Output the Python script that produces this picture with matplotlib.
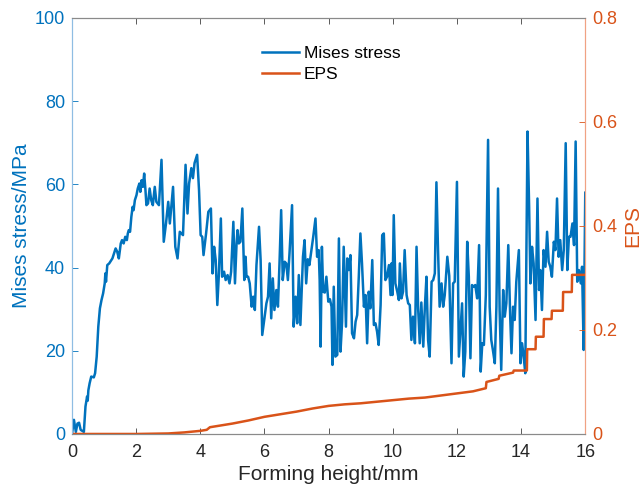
import matplotlib
matplotlib.use("Agg")
import matplotlib.pyplot as plt

# Mises stress (MPa) vs forming height (mm)
stress_pts = [
    (0.00, 0.0), (0.06, 3.4), (0.12, 0.5), (0.17, 2.5), (0.22, 2.7), (0.27, 1.0), (0.37, 0.5),
    (0.42, 6.6), (0.47, 9.0), (0.49, 8.0), (0.51, 10.5), (0.55, 12.2), (0.60, 13.8), (0.68, 13.6),
    (0.72, 14.6), (0.77, 18.6), (0.82, 25.8), (0.87, 30.2), (0.92, 32.2), (0.97, 33.8), (1.02, 36.2),
    (1.04, 38.6), (1.06, 36.6), (1.10, 40.6), (1.16, 41.0), (1.26, 42.2), (1.36, 44.6), (1.41, 43.8),
    (1.46, 42.2), (1.52, 45.8), (1.56, 46.6), (1.61, 45.8), (1.66, 47.4), (1.71, 46.6), (1.74, 48.2),
    (1.77, 49.0), (1.81, 48.6), (1.85, 52.2), (1.89, 54.6), (1.92, 53.8), (1.96, 56.2), (2.01, 57.4),
    (2.05, 59.0), (2.10, 60.2), (2.13, 58.2), (2.17, 61.0), (2.21, 59.4), (2.25, 62.6), (2.29, 58.6),
    (2.32, 55.0), (2.37, 55.4), (2.42, 59.0), (2.47, 56.2),
    (2.52, 55.0), (2.58, 59.4), (2.63, 55.8), (2.71, 55.0), (2.79, 65.9), (2.86, 46.2), (2.93, 50.6),
    (3.00, 55.8), (3.05, 50.6), (3.15, 59.4), (3.22, 45.0), (3.29, 42.2), (3.36, 48.6), (3.46, 47.8),
    (3.54, 64.7), (3.60, 53.0), (3.65, 60.2), (3.72, 63.9), (3.77, 61.5), (3.82, 65.1), (3.90, 67.1),
    (3.96, 58.6), (4.01, 47.8), (4.06, 47.4), (4.10, 43.0), (4.18, 48.2), (4.25, 53.4), (4.33, 54.2),
    (4.38, 38.6), (4.43, 45.0), (4.48, 41.8), (4.53, 31.0), (4.58, 38.6), (4.64, 51.8), (4.68, 37.8),
    (4.74, 39.0), (4.79, 37.0), (4.85, 38.2), (4.91, 36.2), (4.96, 39.0),
    (5.03, 51.0), (5.08, 36.2), (5.13, 45.8), (5.16, 49.0), (5.20, 45.8), (5.25, 46.2), (5.31, 54.2),
    (5.37, 37.0), (5.41, 42.6), (5.44, 37.8), (5.49, 37.8), (5.54, 36.2), (5.60, 30.6), (5.65, 33.0),
    (5.70, 29.8), (5.75, 40.6), (5.83, 49.8), (5.88, 41.8), (5.93, 23.8), (5.99, 27.4), (6.06, 31.4),
    (6.11, 33.0), (6.16, 41.0), (6.21, 27.8), (6.26, 37.4), (6.31, 29.8), (6.37, 34.6), (6.42, 30.6),
    (6.47, 41.4), (6.52, 53.8), (6.57, 37.0), (6.63, 41.4), (6.68, 41.0), (6.73, 37.0), (6.78, 43.4),
    (6.86, 55.0), (6.91, 25.8), (6.97, 33.0), (7.02, 26.6), (7.07, 38.2), (7.12, 26.2), (7.20, 42.6),
    (7.25, 46.6), (7.30, 36.2), (7.35, 42.0), (7.40, 40.6), (7.52, 47.4), (7.59, 51.8), (7.64, 42.6),
    (7.69, 44.2), (7.72, 37.0), (7.75, 21.0), (7.79, 45.0),
    (7.83, 34.2), (7.88, 34.0), (7.93, 37.8), (7.99, 31.8), (8.04, 32.4), (8.09, 30.6), (8.12, 16.6),
    (8.16, 35.4), (8.21, 18.6), (8.27, 19.0), (8.32, 47.0), (8.37, 19.8), (8.42, 27.0), (8.47, 45.0),
    (8.54, 25.8), (8.58, 42.2), (8.63, 39.4), (8.68, 43.0), (8.73, 24.2), (8.79, 23.0), (8.84, 27.0),
    (8.89, 28.6), (8.94, 37.8), (8.99, 48.2), (9.04, 41.0), (9.10, 30.6), (9.15, 33.4), (9.20, 21.8),
    (9.25, 34.2), (9.30, 30.2), (9.36, 41.8), (9.41, 26.2), (9.46, 26.6), (9.51, 24.6), (9.56, 21.4),
    (9.62, 31.0), (9.67, 47.8), (9.72, 48.2), (9.77, 37.0), (9.82, 37.8), (9.88, 40.6), (9.93, 33.4),
    (9.96, 41.0), (9.99, 33.4), (10.03, 52.6), (10.08, 36.2), (10.14, 34.2), (10.19, 32.2),
    (10.22, 41.0), (10.27, 32.6), (10.32, 34.2), (10.37, 44.2), (10.43, 33.4), (10.48, 31.4),
    (10.53, 31.0), (10.58, 22.6), (10.63, 28.2), (10.69, 21.8), (10.74, 45.0), (10.79, 30.2),
    (10.84, 21.8), (10.89, 31.6), (10.95, 21.0), (11.00, 30.6), (11.05, 37.8), (11.10, 22.6),
    (11.15, 18.6), (11.21, 36.6), (11.26, 37.0), (11.31, 38.6), (11.36, 60.5), (11.41, 44.2),
    (11.46, 30.6), (11.52, 36.2), (11.57, 30.6), (11.62, 33.4), (11.70, 42.6), (11.76, 38.0),
    (11.83, 17.0), (11.88, 36.2), (11.93, 36.6), (12.00, 60.6), (12.06, 18.6), (12.11, 25.0),
    (12.16, 31.4), (12.21, 13.8), (12.26, 19.8), (12.32, 46.2), (12.37, 37.8), (12.42, 18.2),
    (12.47, 35.8), (12.52, 35.4), (12.57, 35.8), (12.63, 32.6), (12.69, 45.4), (12.74, 15.0),
    (12.79, 21.8), (12.84, 21.4), (12.90, 33.4), (12.97, 70.7), (13.02, 30.6), (13.07, 22.6),
    (13.12, 20.2), (13.18, 17.0), (13.23, 30.6), (13.28, 59.0), (13.33, 29.8), (13.38, 15.4),
    (13.44, 34.6), (13.49, 28.2), (13.54, 31.4), (13.60, 45.4), (13.66, 28.2), (13.70, 19.4),
    (13.75, 30.6), (13.80, 27.4), (13.85, 36.6), (13.93, 44.2), (13.98, 17.0), (14.03, 21.8),
    (14.08, 18.6), (14.13, 14.6), (14.20, 72.7), (14.25, 54.6), (14.29, 36.2), (14.34, 45.0),
    (14.39, 41.0), (14.45, 27.4), (14.51, 56.6), (14.56, 34.6), (14.60, 39.4), (14.65, 29.8),
    (14.70, 44.2), (14.76, 40.2), (14.81, 48.6), (14.86, 41.4), (14.91, 40.2), (14.96, 37.8),
    (15.02, 46.2), (15.07, 44.2), (15.12, 56.6), (15.17, 42.6), (15.22, 46.6), (15.28, 39.4),
    (15.33, 44.2), (15.39, 69.9), (15.44, 39.4), (15.49, 47.4), (15.54, 47.4), (15.60, 50.6),
    (15.65, 45.4), (15.70, 70.3), (15.75, 36.6), (15.80, 39.4), (15.86, 36.2), (15.90, 40.2),
    (15.95, 20.2), (16.00, 58.0),
]
stress_x = [p[0] for p in stress_pts]
stress_y = [p[1] for p in stress_pts]

# equivalent plastic strain, stepped near the end
eps_x = [0, 2.0, 3.0, 3.5, 4.0, 4.2, 4.3, 4.6, 5.0, 5.5,
         6.0, 6.5, 7.0, 7.5, 8.0, 8.5, 9.0, 9.5, 10.0, 10.5,
         11.0, 11.5, 12.0, 12.5, 12.9, 12.92, 13.3, 13.32, 13.75, 13.77,
         14.18, 14.19, 14.45, 14.46, 14.7, 14.71, 14.95, 14.96, 15.3, 15.31,
         15.58, 15.59, 16.0]
eps_y = [0, 0, 0.001, 0.003, 0.006, 0.008, 0.013, 0.016, 0.020, 0.026,
         0.033, 0.038, 0.043, 0.049, 0.054, 0.057, 0.059, 0.062, 0.065, 0.068,
         0.070, 0.074, 0.078, 0.082, 0.088, 0.100, 0.106, 0.112, 0.118, 0.122,
         0.122, 0.163, 0.163, 0.187, 0.187, 0.221, 0.221, 0.237, 0.237, 0.273,
         0.273, 0.306, 0.306]

x_ticks = [0, 2, 4, 6, 8, 10, 12, 14, 16]
left_ticks = [0, 20, 40, 60, 80, 100]
right_ticks = [0, 0.2, 0.4, 0.6, 0.8]
right_labels = ["0", "0.2", "0.4", "0.6", "0.8"]

blue = "#0072BD"
orange = "#D95319"
gray = "#8a8a8a"

plt.rcParams["font.family"] = ["Liberation Sans", "DejaVu Sans"]

fig = plt.figure(figsize=(6.44, 4.88), dpi=100)
ax = fig.add_axes([0.1118, 0.1107, 0.797, 0.8525])
ax2 = ax.twinx()

l1, = ax.plot(stress_x, stress_y, color=blue, lw=1.8, label="Mises stress")
l2, = ax2.plot(eps_x, eps_y, color=orange, lw=1.8, label="EPS")

ax.set_xlim(0, 16)
ax.set_ylim(0, 100)
ax2.set_ylim(0, 0.8)
ax.set_xticks(x_ticks)
ax.set_yticks(left_ticks)
ax2.set_yticks(right_ticks)
ax2.set_yticklabels(right_labels)

ax.tick_params(axis="x", direction="in", top=True, length=4, width=0.6, color="#404040",
               labelsize=13, labelcolor="#262626", pad=7)
ax.tick_params(axis="y", direction="in", length=4, width=0.6, color=blue,
               labelsize=13, labelcolor=blue, pad=5)
ax2.tick_params(axis="y", direction="in", length=4, width=0.6, color=orange,
                labelsize=13, labelcolor=orange, pad=5)

for a in (ax, ax2):
    a.spines["top"].set_color(gray)
    a.spines["bottom"].set_color(gray)
    a.spines["left"].set_color("#8fbde3")
    a.spines["right"].set_color("#f0a283")
    for s in a.spines.values():
        s.set_linewidth(0.8)

ax.set_xlabel("Forming height/mm", fontsize=15, color="#262626", labelpad=3)
ax.set_ylabel("Mises stress/MPa", fontsize=15, color=blue, labelpad=3)
ax2.set_ylabel("EPS", fontsize=15, color=orange, labelpad=4)

ax.legend(handles=[l1, l2], loc="upper left", bbox_to_anchor=(0.34, 0.97),
          frameon=False, fontsize=12.5, handlelength=2.1, handletextpad=0.3,
          labelspacing=0.3)

fig.savefig("out.png", dpi=100)
